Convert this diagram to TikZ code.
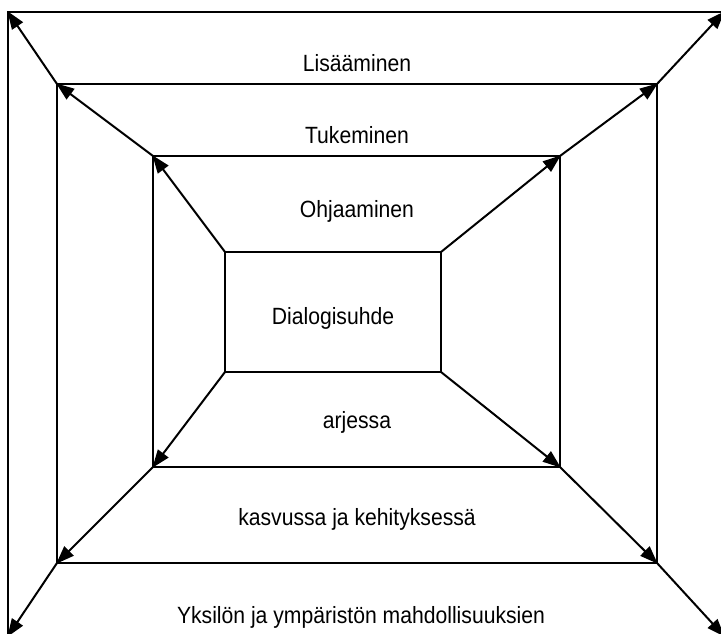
\documentclass[tikz,border=0pt]{standalone}
\usepackage{fontspec}
\setmainfont[FakeStretch=0.9]{Liberation Sans}
\usetikzlibrary{arrows.meta}
\begin{document}
\begin{tikzpicture}[x=1pt,y=-1pt,
  frame/.style={line width=2pt},
  arr/.style={line width=2pt,-{Triangle[length=18pt,width=13pt]},shorten >=-1pt},
  lbl/.style={font=\fontsize{23.5}{26}\selectfont,anchor=base,inner sep=0pt}]
\useasboundingbox (0,0) rectangle (721,634);
\clip (0,0) rectangle (721,634);
% corners
\coordinate (o1) at (8,12);   \coordinate (o2) at (724,12);
\coordinate (o3) at (8,636);  \coordinate (o4) at (724,636);
\coordinate (s1) at (57,84);  \coordinate (s2) at (657,84);
\coordinate (s3) at (57,563); \coordinate (s4) at (657,563);
\coordinate (t1) at (153,156); \coordinate (t2) at (560,156);
\coordinate (t3) at (153,467); \coordinate (t4) at (560,467);
\coordinate (i1) at (225,252); \coordinate (i2) at (441,252);
\coordinate (i3) at (225,372); \coordinate (i4) at (441,372);
% rectangles
\draw[frame] (o1) rectangle (o4);
\draw[frame] (s1) rectangle (s4);
\draw[frame] (t1) rectangle (t4);
\draw[frame] (i1) rectangle (i4);
% arrows
\draw[arr] (i1) -- (t1); \draw[arr] (i2) -- (t2);
\draw[arr] (i3) -- (t3); \draw[arr] (i4) -- (t4);
\draw[arr] (t1) -- (s1); \draw[arr] (t2) -- (s2);
\draw[arr] (t3) -- (s3); \draw[arr] (t4) -- (s4);
\draw[arr] (s1) -- (o1); \draw[arr] (s2) -- (o2);
\draw[arr] (s3) -- (o3); \draw[arr] (s4) -- (o4);
% labels
\node[lbl] (l1) at (357,72) {Lisääminen};
\node[lbl] (l2) at (357,143) {Tukeminen};
\node[lbl] (l3) at (357,217) {Ohjaaminen};
\node[lbl] (l4) at (333,324) {Dialogisuhde};
\node[lbl] (l5) at (357,428) {arjessa};
\node[lbl] (l6) at (357,525) {kasvussa ja kehityksessä};
\node[lbl] (l7) at (361,623) {Yksilön ja ympäristön mahdollisuuksien};
\end{tikzpicture}
\end{document}
